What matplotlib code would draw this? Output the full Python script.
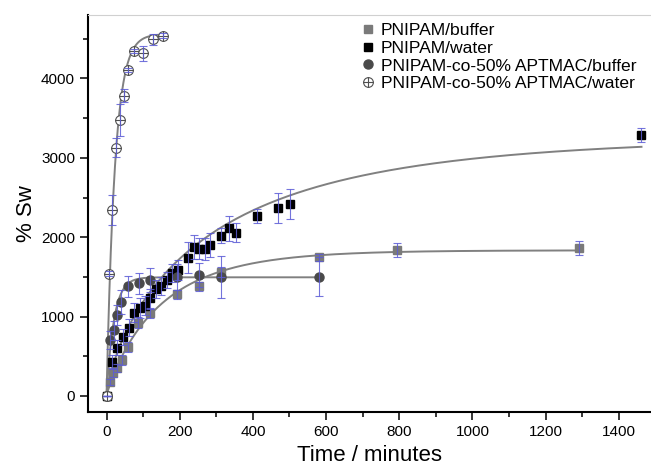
import matplotlib as mpl
mpl.use("Agg")
mpl.rc('font', family='Liberation Sans', size=11)
import matplotlib.pyplot as plt
import numpy as np
from matplotlib.path import Path

# PNIPAM/buffer (grey squares)
t_pb = [0, 10, 19, 29, 41, 58, 87, 119, 193, 254, 313, 581, 793, 1290]
sw_pb = [0, 172, 294, 357, 454, 614, 925, 1040, 1280, 1380, 1565, 1745, 1840, 1865]
err_pb = [0, 40, 50, 50, 60, 60, 70, 60, 60, 60, 60, 40, 84, 84]

# PNIPAM/water (black squares)
t_pw = [0, 16, 30, 45, 61, 76, 91, 105, 120, 136, 150, 165, 180, 195, 222, 238,
        252, 268, 282, 314, 334, 353, 410, 470, 502, 1462]
sw_pw = [0, 433, 609, 744, 861, 1047, 1106, 1135, 1232, 1349, 1387, 1463, 1547,
         1589, 1744, 1875, 1854, 1850, 1900, 2021, 2110, 2059, 2266, 2367, 2417, 3290]
err_pw = [0, 80, 90, 100, 110, 120, 130, 120, 120, 110, 110, 100, 110, 130, 190,
          147, 130, 137, 151, 100, 157, 118, 92, 185, 190, 90]

# PNIPAM-co-50% APTMAC/buffer (dark grey circles)
t_ab = [0, 10, 20, 29, 40, 60, 89, 118, 193, 254, 314, 581]
sw_ab = [0, 706, 830, 1020, 1180, 1380, 1420, 1460, 1500, 1525, 1500, 1500]
err_ab = [0, 110, 120, 130, 150, 130, 130, 150, 160, 150, 262, 246]

# PNIPAM-co-50% APTMAC/water (crossed open circles)
t_aw = [0, 8, 16, 27, 36, 47, 59, 75, 100, 127, 154]
sw_aw = [0, 1540, 2345, 3130, 3475, 3785, 4105, 4345, 4315, 4495, 4540]
err_aw = [0, 30, 190, 115, 200, 80, 25, 25, 95, 70, 30]

labels = ['PNIPAM/buffer', 'PNIPAM/water',
          'PNIPAM-co-50% APTMAC/buffer', 'PNIPAM-co-50% APTMAC/water']

# swelling fit parameters: Sw = A*(1-exp(-(t/tau)^beta)), drawn up to t_end
fit_A = [1835, 3260, 1495, 4560]
fit_tau = [150, 292, 20, 23]
fit_beta = [0.9, 0.74, 1.0, 1.0]
fit_end = [1290, 1462, 581, 154]

circ = Path.unit_circle()
cross = Path([(-1, 0), (1, 0), (0, -1), (0, 1)],
             [Path.MOVETO, Path.LINETO, Path.MOVETO, Path.LINETO])
oplus = Path.make_compound_path(circ, cross)

fig = plt.figure(figsize=(6.51, 4.68), dpi=100)
ax = fig.add_axes([0.1355, 0.12, 0.8645, 0.848])

fitcol = '#808080'
errcol = '#5c5cd6'
for A, tau, beta, tend in zip(fit_A, fit_tau, fit_beta, fit_end):
    tt = np.linspace(0, tend, 400)
    ax.plot(tt, A * (1 - np.exp(-(tt / tau) ** beta)), color=fitcol, lw=1.4, zorder=1)

series = [(t_pb, sw_pb, err_pb, dict(marker='s', ms=5.8, mfc='#7a7a7a', mec='#7a7a7a')),
          (t_pw, sw_pw, err_pw, dict(marker='s', ms=5.8, mfc='black', mec='black')),
          (t_ab, sw_ab, err_ab, dict(marker='o', ms=6.5, mfc='#4a4a4a', mec='#4a4a4a')),
          (t_aw, sw_aw, err_aw, dict(marker=oplus, ms=7, mfc='white', mec='#505050', mew=0.8))]

for (t, sw, err, style), lab in zip(series, labels):
    ax.plot(t, sw, ls='none', zorder=3, label=lab, **style)
    ax.errorbar(t, sw, yerr=err, fmt='none', ecolor=errcol, elinewidth=0.8,
                capsize=3, capthick=0.8, alpha=0.85, zorder=4)

ax.set_xlim(-50, 1488)
ax.set_ylim(-200, 4800)
ax.set_xticks(np.arange(0, 1401, 200))
ax.set_xticks(np.arange(100, 1401, 200), minor=True)
ax.set_yticks(np.arange(0, 4001, 1000))
ax.set_yticks(np.arange(500, 4600, 1000), minor=True)
ax.tick_params(which='major', direction='out', length=6, width=1.1, labelsize=11)
ax.tick_params(which='minor', direction='out', length=3.5, width=1.1)
ax.tick_params(top=False, right=False)
ax.spines['left'].set_linewidth(1.5)
ax.spines['bottom'].set_linewidth(1.5)
ax.spines['top'].set_color('#d0d0d0')
ax.spines['top'].set_linewidth(0.8)
ax.spines['right'].set_visible(False)

ax.set_xlabel('Time / minutes', fontsize=16, labelpad=4)
ax.set_ylabel('% Sw', fontsize=16, labelpad=3)

ax.legend(loc='upper left', frameon=False, fontsize=12.6, handletextpad=0.33,
          handlelength=0.8, borderaxespad=0, borderpad=0, labelspacing=0.14,
          bbox_to_anchor=(0.4847, 0.98))

fig.savefig('out.png', dpi=100)
